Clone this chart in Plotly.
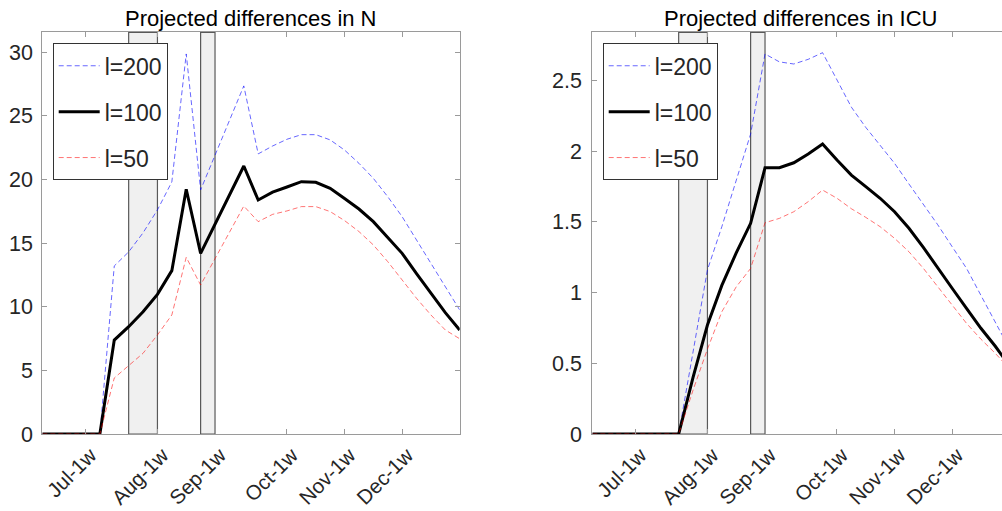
import plotly.graph_objects as go

# ---------------- data ----------------
weeks = list(range(30))
tick_weeks = [3, 8, 12, 17, 21, 25]
tick_labels = ["Jul-1w", "Aug-1w", "Sep-1w", "Oct-1w", "Nov-1w", "Dec-1w"]
shade_start = [6, 11]
shade_end = [8, 12]

n_l200 = [0, 0, 0, 0, 0, 13.2, 14.3, 15.8, 17.6, 19.8, 29.85, 19.17, 21.9, 24.6, 27.34,
          22.0, 22.62, 23.15, 23.51, 23.51, 23.1, 22.3, 21.26, 20.08, 18.64, 17.07, 15.24,
          13.41, 11.57, 9.74]
n_l100 = [0, 0, 0, 0, 0, 7.38, 8.43, 9.6, 10.97, 12.83, 19.22, 14.19, 16.47, 18.8, 21.05,
          18.38, 19.0, 19.4, 19.82, 19.77, 19.3, 18.5, 17.67, 16.68, 15.45, 14.19, 12.6,
          11.05, 9.53, 8.17]
n_l50 = [0, 0, 0, 0, 0, 4.4, 5.34, 6.34, 7.78, 9.35, 13.88, 11.7, 13.77, 15.84, 17.9,
         16.68, 17.25, 17.52, 17.86, 17.86, 17.47, 16.76, 15.9, 14.85, 13.54, 12.1, 10.66,
         9.35, 8.17, 7.48]

icu_l200 = [0, 0, 0, 0, 0, 0, 0, 0.58, 1.16, 1.465, 1.795, 2.12, 2.686, 2.63, 2.615, 2.648,
            2.695, 2.5, 2.31, 2.167, 2.042, 1.913, 1.767, 1.625, 1.479, 1.324, 1.171, 0.98,
            0.79, 0.6]
icu_l100 = [0, 0, 0, 0, 0, 0, 0, 0.4, 0.77, 1.05, 1.28, 1.489, 1.882, 1.882, 1.917, 1.979,
            2.05, 1.936, 1.83, 1.748, 1.666, 1.571, 1.454, 1.319, 1.171, 1.03, 0.888, 0.747,
            0.62, 0.48]
icu_l50 = [0, 0, 0, 0, 0, 0, 0, 0.31, 0.6, 0.864, 1.04, 1.17, 1.493, 1.524, 1.571, 1.642,
           1.724, 1.666, 1.592, 1.531, 1.465, 1.383, 1.288, 1.171, 1.041, 0.912, 0.782, 0.67,
           0.57, 0.46]

series_names = ["l=200", "l=100", "l=50"]
titles = ["Projected differences in N", "Projected differences in ICU"]

# ---------------- styling ----------------
W, H = 1002, 511
FONT = "Liberation Sans, Arial, sans-serif"
styles = [
    dict(color="rgba(0,0,255,0.6)", width=1, dash="5px,3px"),
    dict(color="black", width=3, dash="solid"),
    dict(color="rgba(255,0,0,0.55)", width=1, dash="5px,3px"),
]


def px_x(p):
    return p / W


def px_y(p):
    return 1 - p / H


fig = go.Figure()

panels = [
    ("x", "y", "legend", [n_l200, n_l100, n_l50]),
    ("x2", "y2", "legend2", [icu_l200, icu_l100, icu_l50]),
]
for xa, ya, lg, data in panels:
    for k, (name, vals) in enumerate(zip(series_names, data)):
        fig.add_trace(go.Scatter(
            x=weeks, y=vals, mode="lines", name=name, line=styles[k],
            xaxis=xa, yaxis=ya, legend=lg, legendgroup=f"{lg}_{k}",
        ))

# shaded periods
for xa, ya in [("x", "y"), ("x2", "y2")]:
    for s, e in zip(shade_start, shade_end):
        fig.add_shape(type="rect", xref=xa, yref=f"{ya} domain", x0=s, x1=e, y0=0, y1=1,
                      fillcolor="#f0f0f0", line=dict(color="#595959", width=1.2),
                      layer="below")

# pixel geometry (reference pixels)
ytop, ybot = 32.3, 434.0
ydom = [px_y(ybot), px_y(ytop)]
lx0, lx1 = 42.3, 459.7
rx0 = 592.3
px_per_week = (lx1 - lx0) / 29.0
right_max = (W - rx0) / px_per_week

axis_common = dict(
    showline=True, linecolor="#9a9a9a", linewidth=1.3, ticks="inside", ticklen=5,
    tickcolor="#9a9a9a", tickwidth=1, showgrid=False, zeroline=False, automargin=False,
)
yfont = dict(family=FONT, size=21.5, color="#262626")
xfont = dict(family=FONT, size=20.5, color="#262626")

legend_common = dict(xanchor="left", yanchor="top", bgcolor="white",
                     bordercolor="#333333", borderwidth=1,
                     font=dict(family=FONT, size=23, color="#262626"),
                     tracegroupgap=13, traceorder="grouped", itemwidth=41)

fig.update_layout(
    width=W, height=H, margin=dict(l=0, r=0, t=0, b=0, pad=0, autoexpand=False),
    paper_bgcolor="white", plot_bgcolor="white",
    xaxis=dict(domain=[px_x(lx0), px_x(lx1)], range=[0, 29], tickvals=tick_weeks,
               ticktext=tick_labels, tickangle=-45, mirror="ticks", anchor="y",
               ticklabelshift=5, tickfont=xfont, **axis_common),
    yaxis=dict(domain=ydom, range=[0, 31.55], tickvals=[0, 5, 10, 15, 20, 25, 30],
               mirror="ticks", anchor="x", ticklabelstandoff=4, tickfont=yfont,
               **axis_common),
    xaxis2=dict(domain=[px_x(rx0), 1.0], range=[0, right_max], tickvals=tick_weeks,
                ticktext=tick_labels, tickangle=-45, mirror="ticks", anchor="y2",
                ticklabelshift=5, tickfont=xfont, **axis_common),
    yaxis2=dict(domain=ydom, range=[0, 2.839], tickvals=[0, 0.5, 1, 1.5, 2, 2.5],
                ticktext=["0", "0.5", "1", "1.5", "2", "2.5"],
                mirror=False, anchor="x2", ticklabelstandoff=5, tickfont=yfont,
                **axis_common),
    legend=dict(x=px_x(52.7), y=px_y(43.3), **legend_common),
    legend2=dict(x=px_x(602.7), y=px_y(43.3), **legend_common),
    showlegend=True,
)

for cx, title in zip([(lx0 + lx1) / 2, (rx0 + rx0 + (lx1 - lx0)) / 2], titles):
    fig.add_annotation(text=title, x=px_x(cx), y=px_y(18), xref="paper", yref="paper",
                       xanchor="center", yanchor="middle", showarrow=False,
                       font=dict(family=FONT, size=22, color="black"))

fig.write_html("out.html", config={"displayModeBar": False},
               post_script="document.body.style.margin='0px';"
                           "document.body.style.overflow='hidden';")
